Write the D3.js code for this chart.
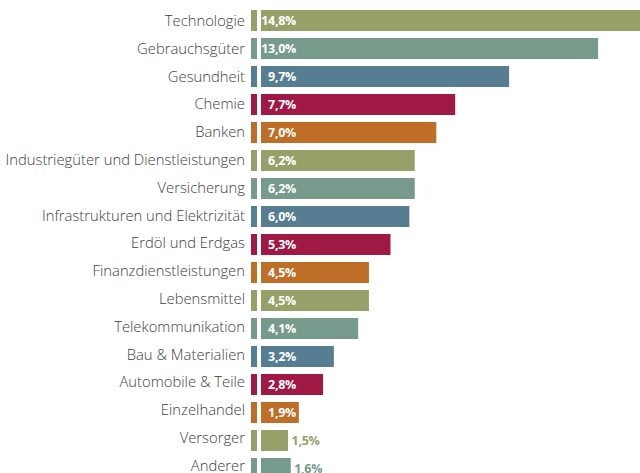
<!DOCTYPE html>
<html>
<head>
<meta charset="utf-8">
<script src="https://cdn.jsdelivr.net/npm/d3@7"></script>
<style>
  body { margin: 0; background: #fff; }
  svg { display: block; }
</style>
</head>
<body>
<div class="canvas"></div>
<script>
const sectors = [
  "Technologie", "Gebrauchsgüter", "Gesundheit", "Chemie", "Banken",
  "Industriegüter und Dienstleistungen", "Versicherung",
  "Infrastrukturen und Elektrizität", "Erdöl und Erdgas",
  "Finanzdienstleistungen", "Lebensmittel", "Telekommunikation",
  "Bau & Materialien", "Automobile & Teile", "Einzelhandel",
  "Versorger", "Anderer"
];
const shares = [14.8, 13.0, 9.7, 7.7, 7.0, 6.2, 6.2, 6.0, 5.3, 4.5, 4.5, 4.1, 3.2, 2.8, 1.9, 1.5, 1.6];
const palette = ["#98a06a", "#769a8b", "#577d92", "#a01844", "#bf6e28"];

const width = 640;
const height = 473;

const svg = d3
  .select(".canvas")
  .append("svg")
  .attr("width", width)
  .attr("height", height);

//scales
const x = d3.scaleLinear().domain([0, 14.8]).range([247.6, 247.6 + 26.96 * 14.8]);
const y = d3
  .scaleBand()
  .domain(sectors)
  .range([6.5, 6.5 + 28 * sectors.length])
  .paddingInner(0.25)
  .paddingOuter(0.125);
// labels sit on a slightly tighter pitch than the bars
const yLabel = d3.scalePoint().domain(sectors).range([20.8, 465.3]);

const fmt = (v) => d3.format(".1f")(v).replace(".", ",") + "%";
const color = (i) => palette[i % palette.length];

const data = sectors.map((s, i) => ({ name: s, value: shares[i], i }));

const rows = svg
  .selectAll("g.row")
  .data(data)
  .enter()
  .append("g")
  .attr("class", "row");

//sector labels
rows
  .append("text")
  .attr("x", 245)
  .attr("y", (d) => yLabel(d.name))
  .attr("dy", "0.36em")
  .attr("text-anchor", "end")
  .attr("font-family", "'Open Sans', sans-serif")
  .attr("font-weight", 300)
  .attr("font-size", 14.8)
  .attr("fill", "#3e3e3e")
  .text((d) => d.name);

//small marker bar
rows
  .append("rect")
  .attr("x", 251)
  .attr("width", 6)
  .attr("y", (d) => y(d.name))
  .attr("height", y.bandwidth())
  .attr("fill", (d) => color(d.i));

//main bar
rows
  .append("rect")
  .attr("x", 261)
  .attr("width", (d) => x(d.value) - 261)
  .attr("y", (d) => y(d.name))
  .attr("height", y.bandwidth())
  .attr("fill", (d) => color(d.i));

//value labels
rows
  .append("text")
  .attr("x", (d) => (d.value < 1.8 ? x(d.value) + 3.5 : 296))
  .attr("y", (d) => y(d.name) + y.bandwidth() / 2)
  .attr("dy", "0.36em")
  .attr("text-anchor", (d) => (d.value < 1.8 ? "start" : "end"))
  .attr("font-family", "'Open Sans', sans-serif")
  .attr("font-weight", 700)
  .attr("font-size", 12.5)
  .attr("letter-spacing", -0.3)
  .attr("fill", (d) => (d.value < 1.8 ? color(d.i) : "#fff"))
  .text((d) => fmt(d.value));
</script>
</body>
</html>
